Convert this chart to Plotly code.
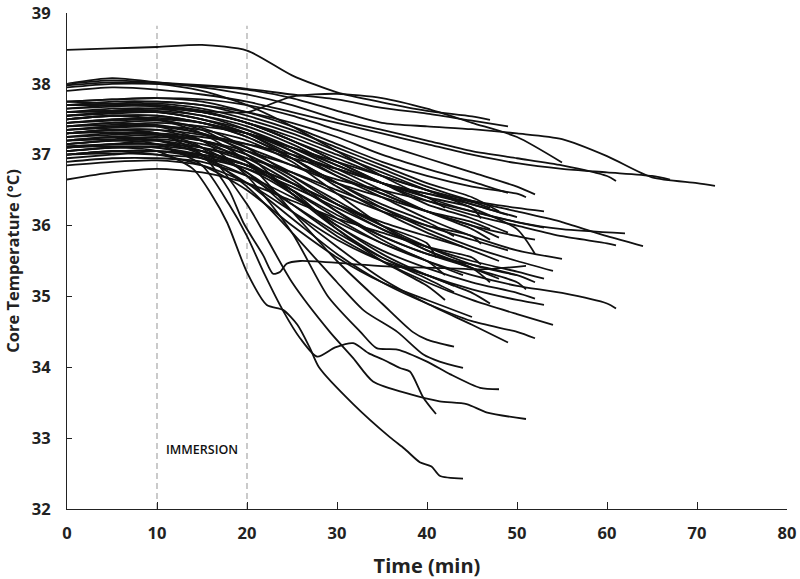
import plotly.graph_objects as go

# ---- data: core temperature (deg C) sampled every 5 min from t=0, last value at the subject's end time ----
p01 = [38.48, 38.50, 38.52, 38.55, 38.47, 38.12, 37.88, 37.74, 37.62, 37.54, 37.49]
p02 = [38.00, 38.05, 38.02, 37.98, 37.93, 37.85, 37.78, 37.66, 37.58, 37.48, 37.40]
p03 = [37.95, 38.00, 38.00, 37.97, 37.92, 37.80, 37.62, 37.45, 37.40, 37.36, 37.30, 37.22, 36.98, 36.68, 36.60, 36.56]
p04 = [38.00, 38.08, 38.02, 37.95, 37.85, 37.70, 37.50, 37.35, 37.20, 37.05, 36.95, 36.85, 36.70, 36.63]
p05 = [37.90, 37.95, 37.92, 37.85, 37.75, 37.60, 37.45, 37.30, 37.15, 37.00, 36.88, 36.80, 36.75, 36.70, 36.65]
p06 = [37.98, 38.02, 38.00, 37.90, 37.70, 37.40, 37.05, 36.70, 36.40, 36.20, 36.05, 35.95, 35.89]
p07 = [37.75, 37.72, 37.70, 37.62, 37.60, 37.82, 37.86, 37.80, 37.65, 37.45, 37.25, 36.89]
p08 = [37.75, 37.78, 37.80, 37.78, 37.70, 37.55, 37.35, 37.15, 36.95, 36.75, 36.55, 36.44]
p09 = [37.70, 37.72, 37.75, 37.70, 37.60, 37.45, 37.25, 37.00, 36.80, 36.62, 36.46]
p10 = [37.65, 37.70, 37.72, 37.65, 37.50, 37.30, 37.05, 36.80, 36.55, 36.35, 36.20, 36.05, 35.85, 35.71]
p11 = [37.60, 37.62, 37.65, 37.60, 37.45, 37.20, 36.90, 36.60, 36.35, 36.15, 36.00, 35.85, 35.75, 35.72]
p12 = [37.55, 37.60, 37.62, 37.55, 37.35, 37.05, 36.70, 36.40, 36.10, 35.85, 35.65, 35.53]
p13 = [37.50, 37.55, 37.55, 37.45, 37.25, 36.95, 36.60, 36.25, 35.95, 35.70, 35.50, 35.36]
p14 = [37.45, 37.50, 37.50, 37.35, 37.00, 36.45, 35.95, 35.55, 35.25, 35.06]
p15 = [37.40, 37.45, 37.48, 37.38, 37.10, 36.70, 36.30, 35.95, 35.70, 35.50, 35.35, 35.25]
p16 = [37.70, 37.70, 37.68, 37.60, 37.45, 37.25, 37.00, 36.75, 36.50, 36.25, 35.95, 35.60]
p17 = [37.35, 37.40, 37.42, 37.30, 37.05, 36.75, 36.45, 36.20, 36.00, 35.85, 35.74]
p18 = [37.60, 37.62, 37.60, 37.50, 37.30, 37.00, 36.70, 36.45, 36.20, 36.00, 35.83]
p19 = [37.50, 37.55, 37.55, 37.45, 37.30, 37.10, 36.90, 36.70, 36.50, 36.30, 36.12]
p20 = [37.30, 37.35, 37.35, 37.28, 37.15, 36.95, 36.80, 36.60, 36.45, 36.33, 36.25]
p21 = [37.20, 37.25, 37.28, 37.20, 37.05, 36.85, 36.65, 36.50, 36.35, 36.20, 36.05, 35.97]
p23 = [37.10, 37.15, 37.15, 37.05, 36.85, 36.50, 36.10, 35.75, 35.50, 35.30, 35.15, 35.05, 34.90, 34.83]
p24 = [37.30, 37.35, 37.35, 37.20, 36.90, 36.45, 36.00, 35.65, 35.40, 35.20, 35.05, 34.97]
p25 = [37.00, 37.05, 37.05, 36.95, 36.70, 36.30, 35.90, 35.55, 35.30, 35.10, 34.95, 34.88]
p26 = [37.15, 37.20, 37.20, 37.05, 36.75, 36.30, 35.85, 35.50, 35.20, 34.95, 34.75, 34.60]
p27 = [37.05, 37.10, 37.10, 36.95, 36.60, 36.10, 35.60, 35.20, 34.90, 34.65, 34.50, 34.41]
p28 = [37.25, 37.30, 37.28, 37.10, 36.75, 36.20, 35.70, 35.25, 34.90, 34.60, 34.35]
p29 = [37.00, 37.05, 37.00, 36.85, 36.50, 36.00, 35.55, 35.20, 34.95, 34.71]
p30 = [37.60, 37.65, 37.65, 37.55, 37.40, 37.15, 36.85, 36.60, 36.40, 36.25]
p31 = [37.10, 37.12, 37.10, 37.00, 36.85, 36.60, 36.30, 36.05, 35.85, 35.70]
p32 = [37.35, 37.40, 37.40, 37.30, 37.10, 36.85, 36.60, 36.40, 36.20, 36.05, 35.95]
p33 = [36.90, 36.95, 36.95, 36.90, 36.70, 36.40, 36.05, 35.75, 35.50, 35.30]
p34 = [37.55, 37.58, 37.60, 37.50, 37.30, 36.95, 36.55, 36.20, 35.90, 35.65, 35.50]
p35 = [36.65, 36.75, 36.80, 36.75, 36.60, 36.35, 36.10, 35.90, 35.70, 35.55, 35.45]
p36 = [37.25, 37.28, 37.30, 37.25, 37.15, 37.00, 36.80, 36.60, 36.45, 36.30, 36.15]
p37 = [37.00, 37.02, 37.00, 36.95, 36.80, 36.55, 36.25, 35.95, 35.65, 35.40, 35.20]
p38 = [37.45, 37.50, 37.52, 37.45, 37.25, 36.95, 36.60, 36.30, 36.05, 35.85]
p39 = [37.15, 37.20, 37.22, 37.15, 36.95, 36.60, 36.20, 35.85, 35.60, 35.40, 35.25]
p40 = [36.95, 37.00, 37.05, 37.00, 36.85, 36.60, 36.30, 36.00, 35.75, 35.55]
p41 = [37.70, 37.75, 37.75, 37.70, 37.55, 37.35, 37.10, 36.85, 36.60, 36.40, 36.20]
p42 = [37.30, 37.32, 37.30, 37.20, 37.00, 36.70, 36.35, 36.00, 35.70, 35.45, 35.30]
p43 = [37.05, 37.10, 37.12, 37.05, 36.85, 36.50, 36.15, 35.85, 35.60, 35.45, 35.30, 35.20]
p44 = [37.65, 37.68, 37.70, 37.62, 37.45, 37.20, 36.95, 36.70, 36.50, 36.35, 36.25, 36.20]
p45 = [37.40, 37.42, 37.45, 37.40, 37.30, 37.10, 36.85, 36.60, 36.40, 36.25, 36.10]
p46 = [37.20, 37.22, 37.25, 37.20, 37.00, 36.65, 36.20, 35.80, 35.50, 35.30]
p47 = [37.55, 37.60, 37.60, 37.50, 37.35, 37.10, 36.80, 36.50, 36.20, 35.95, 35.80]
p48 = [36.85, 36.90, 36.92, 36.85, 36.60, 36.20, 35.80, 35.50, 35.30, 35.15]
p49 = [37.75, 37.78, 37.80, 37.75, 37.60, 37.40, 37.15, 36.90, 36.70, 36.55, 36.45, 36.40]
p50 = [37.12, 37.15, 37.15, 37.10, 36.95, 36.75, 36.50, 36.25, 36.00, 35.80, 35.65]
p51 = [37.35, 37.38, 37.40, 37.35, 37.20, 36.90, 36.45, 36.00, 35.65, 35.40, 35.20, 35.10]
p52 = [37.00, 37.05, 37.05, 36.98, 36.80, 36.45, 36.00, 35.60, 35.30, 35.05, 34.90]
p53 = [37.45, 37.48, 37.50, 37.45, 37.30, 37.05, 36.75, 36.45, 36.20, 36.00, 35.85, 35.80]
p54 = [37.10, 37.15, 37.20, 37.10, 36.90, 36.50, 35.95, 35.50, 35.15, 34.95]
p55 = [37.60, 37.62, 37.65, 37.60, 37.45, 37.20, 36.90, 36.60, 36.30, 36.10, 35.90]

grid_subjects = [p01, p02, p03, p04, p05, p06, p07, p08, p09, p10, p11, p12, p13, p14, p15,
                 p16, p17, p18, p19, p20, p21, p23, p24, p25, p26, p27, p28, p29, p30, p31,
                 p32, p33, p34, p35, p36, p37, p38, p39, p40, p41, p42, p43, p44, p45, p46,
                 p47, p48, p49, p50, p51, p52, p53, p54, p55]
end_min = [47, 49, 72, 61, 67, 62, 55, 52, 49, 64, 61, 55, 54, 43, 53,
           52, 46, 48, 50, 47, 53, 61, 52, 53, 54, 52, 49, 45, 42, 44,
           47, 42, 48, 46, 49, 47, 43, 48, 41, 48, 50, 52, 53, 46, 44,
           47, 43, 51, 49, 51, 47, 52, 42, 49]

# subjects read with irregular time points (fast coolers)
q1_t = [0, 5, 10, 14, 16, 17.8, 20, 22.2, 24, 25.6, 27, 28, 31.8, 35.9, 37.5, 39.2, 40.5, 41.4, 44]
q1_T = [37.05, 37.10, 37.05, 36.80, 36.45, 36.04, 35.34, 34.88, 34.81, 34.60, 34.27, 34.00, 33.48, 33.01, 32.85, 32.66, 32.60, 32.47, 32.43]
q2_t = [0, 5, 10, 15, 18, 19.6, 21.8, 22.9, 23.7, 24.4, 25.9, 31.4, 36, 42, 46, 51]
q2_T = [37.30, 37.35, 37.30, 37.00, 36.50, 36.04, 35.58, 35.32, 35.35, 35.46, 35.50, 35.46, 35.42, 35.40, 35.38, 35.43]
q3_t = [0, 5, 10, 15, 18, 20, 22, 24, 25.9, 27.8, 29.8, 31.8, 33.5, 35.1, 37, 38.1, 39.6, 41]
q3_T = [37.15, 37.20, 37.15, 36.85, 36.30, 35.85, 35.30, 34.80, 34.41, 34.15, 34.28, 34.34, 34.20, 34.11, 33.99, 33.94, 33.57, 33.34]
q4_t = [0, 5, 10, 15, 20, 25, 29.2, 31.8, 34, 38.1, 41.4, 44.4, 46.7, 51]
q4_T = [37.30, 37.35, 37.30, 37.10, 36.30, 35.20, 34.50, 34.13, 33.80, 33.62, 33.52, 33.48, 33.36, 33.27]
q5_t = [0, 5, 10, 15, 20, 25, 29, 32.6, 34.4, 36.7, 40, 42.6, 45.9, 48]
q5_T = [37.40, 37.45, 37.40, 37.20, 36.70, 35.90, 35.00, 34.50, 34.27, 34.25, 34.08, 33.90, 33.71, 33.69]
q6_t = [0, 5, 10, 15, 20, 25, 30, 33, 36.7, 39.6, 41.4, 44]
q6_T = [37.20, 37.25, 37.20, 37.00, 36.55, 35.90, 35.20, 34.80, 34.50, 34.18, 34.08, 33.99]
q7_t = [0, 5, 10, 15, 20, 25, 30, 35, 38.4, 40, 43]
q7_T = [37.50, 37.55, 37.50, 37.30, 36.90, 36.20, 35.50, 34.90, 34.50, 34.39, 34.29]
special = [(q1_t, q1_T), (q2_t, q2_T), (q3_t, q3_T), (q4_t, q4_T), (q5_t, q5_T), (q6_t, q6_T), (q7_t, q7_T)]

immersion_start, immersion_end = 10, 20
x_ticks = [0, 10, 20, 30, 40, 50, 60, 70, 80]
y_ticks = [32, 33, 34, 35, 36, 37, 38, 39]

fig = go.Figure()
line_style = dict(color="#111111", width=1.8, shape="spline", smoothing=0.7)

for vals, end in zip(grid_subjects, end_min):
    xs = [5 * i for i in range(len(vals) - 1)] + [end]
    fig.add_trace(go.Scatter(x=xs, y=vals, mode="lines", line=line_style, hoverinfo="skip", cliponaxis=False))
for ts, vals in special:
    fig.add_trace(go.Scatter(x=ts, y=vals, mode="lines", line=line_style, hoverinfo="skip", cliponaxis=False))

for xv in (immersion_start, immersion_end):
    fig.add_shape(type="line", x0=xv, x1=xv, y0=32, y1=38.82, xref="x", yref="y",
                  line=dict(color="#a8a8a8", width=1.2, dash="6px,4px"), layer="below")

fig.add_annotation(x=(immersion_start + immersion_end) / 2, y=32.84, text="IMMERSION",
                   showarrow=False, font=dict(family="Open Sans", size=12.5, color="#111111", weight=600))

tick_font = dict(family="Open Sans", size=16.5, color="#222222", weight="bold")
fig.update_layout(
    width=800, height=579,
    margin=dict(l=67, r=13, t=13, b=70),
    plot_bgcolor="white", paper_bgcolor="white",
    showlegend=False,
    xaxis=dict(range=[0, 80], tickvals=x_ticks, ticks="inside", ticklen=7, tickcolor="#222222",
               showline=True, linecolor="#222222", linewidth=1, showgrid=False, zeroline=False,
               tickfont=tick_font, ticklabelstandoff=9, automargin=False,
               title=dict(text="Time (min)", font=dict(family="Open Sans", size=20, color="#222222", weight="bold"),
                          standoff=18)),
    yaxis=dict(range=[32, 39], tickvals=y_ticks, ticks="inside", ticklen=5, tickcolor="#222222",
               showline=True, linecolor="#222222", linewidth=1, showgrid=False, zeroline=False,
               tickfont=tick_font, ticklabelstandoff=12, automargin=False,
               ticklabeloverflow="allow",
               title=dict(text="Core Temperature (°C)",
                          font=dict(family="Open Sans", size=16.5, color="#222222", weight="bold"),
                          standoff=8)),
)

fig.write_html("out.html", config={"displayModeBar": False},
               post_script="document.body.style.margin='0px';")
